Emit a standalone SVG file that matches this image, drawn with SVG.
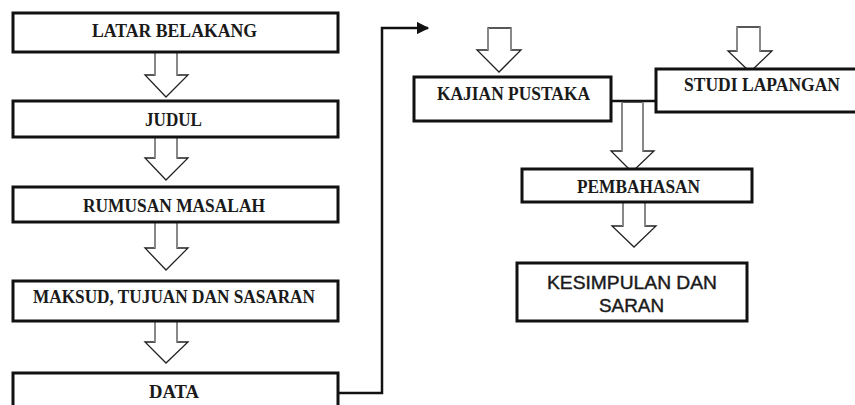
<svg xmlns="http://www.w3.org/2000/svg" width="855" height="405" viewBox="0 0 855 405">
<defs>
<style>
.box{fill:#fff;stroke:#111;stroke-width:3}
.t{font-family:"Liberation Serif","Times New Roman",serif;font-weight:bold;font-size:18px;fill:#1a1a1a;text-anchor:middle}
.s{font-family:"Liberation Sans",Arial,sans-serif;font-size:18px;fill:#1a1a1a;stroke:#1a1a1a;stroke-width:0.4;text-anchor:middle}
.head{fill:#fff;stroke:#222;stroke-width:1.3;stroke-linejoin:miter}
.shaft{stroke:#888;stroke-width:2;fill:none}
.con{stroke:#111;stroke-width:2.5;fill:none}
</style>
<marker id="ah" viewBox="0 0 10 10" refX="9" refY="5" markerWidth="5" markerHeight="5" orient="auto" markerUnits="strokeWidth">
<path d="M0,0 L10,5 L0,10 Z" fill="#111"/>
</marker>
</defs>
<rect width="855" height="405" fill="#fff"/>

<g id="connectors">
<polyline class="con" points="338,393 382,393 382,28 428,28" marker-end="url(#ah)"/>
<line class="con" x1="611" y1="101" x2="656" y2="101"/>
<g id="arrow1"><polygon class="head" points="155,52 155,75 145,75 166,97 188,75 177,75 177,52"/><path class="shaft" d="M155,52V75M177,52V75"/></g>
<g id="arrow2"><polygon class="head" points="155,137 155,158 145,158 166,180 188,158 177,158 177,137"/><path class="shaft" d="M155,137V158M177,137V158"/></g>
<g id="arrow3"><polygon class="head" points="155,222 155,248 145,248 166,270 188,248 177,248 177,222"/><path class="shaft" d="M155,222V248M177,222V248"/></g>
<g id="arrow4"><polygon class="head" points="155,321 155,342 145,342 166,363 188,342 177,342 177,321"/><path class="shaft" d="M155,321V342M177,321V342"/></g>
<g id="arrow5"><polygon class="head" points="488,28 488,50 477,50 499,72 521,50 511,50 511,28"/><path class="shaft" d="M488,28V50M511,28V50"/></g>
<g id="arrow6"><polygon class="head" points="737,27 737,51 728,51 750,72 772,51 760,51 760,27"/><path class="shaft" d="M737,27V51M760,27V51"/></g>
<g id="arrow7"><polygon class="head" points="622,102 622,151 611,151 632,172 654,151 643,151 643,102"/><path class="shaft" d="M622,102V151M643,102V151"/></g>
<g id="arrow8"><polygon class="head" points="623,202 623,226 612,226 634,247 656,226 645,226 645,202"/><path class="shaft" d="M623,202V226M645,202V226"/></g>
</g>

<g id="latar"><rect class="box" x="13" y="13" width="325" height="39"/><text class="t" x="174.5" y="37" textLength="165" lengthAdjust="spacingAndGlyphs">LATAR BELAKANG</text></g>
<g id="judul"><rect class="box" x="13" y="101" width="325" height="36"/><text class="t" x="173.5" y="126" textLength="57" lengthAdjust="spacingAndGlyphs">JUDUL</text></g>
<g id="rumusan"><rect class="box" x="13" y="187" width="325" height="35"/><text class="t" x="174" y="212" textLength="182" lengthAdjust="spacingAndGlyphs">RUMUSAN MASALAH</text></g>
<g id="maksud"><rect class="box" x="13" y="281" width="325" height="40"/><text class="t" x="174" y="303" textLength="282" lengthAdjust="spacingAndGlyphs">MAKSUD, TUJUAN DAN SASARAN</text></g>
<g id="data"><rect class="box" x="13" y="373" width="325" height="50"/><text class="t" x="174" y="398" textLength="50" lengthAdjust="spacingAndGlyphs">DATA</text></g>
<g id="kajian"><rect class="box" x="414" y="77" width="197" height="44"/><text class="t" x="513.5" y="100" textLength="153" lengthAdjust="spacingAndGlyphs">KAJIAN PUSTAKA</text></g>
<g id="studi"><rect class="box" x="656" y="69" width="214" height="43"/><text class="t" x="762" y="91" textLength="156" lengthAdjust="spacingAndGlyphs">STUDI LAPANGAN</text></g>
<g id="pembahasan"><rect class="box" x="522" y="169" width="230" height="33"/><text class="t" x="638.5" y="193" textLength="123" lengthAdjust="spacingAndGlyphs">PEMBAHASAN</text></g>
<g id="kesimpulan"><rect class="box" x="517" y="263" width="230" height="58"/><text class="s" x="632" y="289" textLength="170" lengthAdjust="spacingAndGlyphs">KESIMPULAN DAN</text><text class="s" x="631.5" y="312" textLength="65" lengthAdjust="spacingAndGlyphs">SARAN</text></g>
</svg>
